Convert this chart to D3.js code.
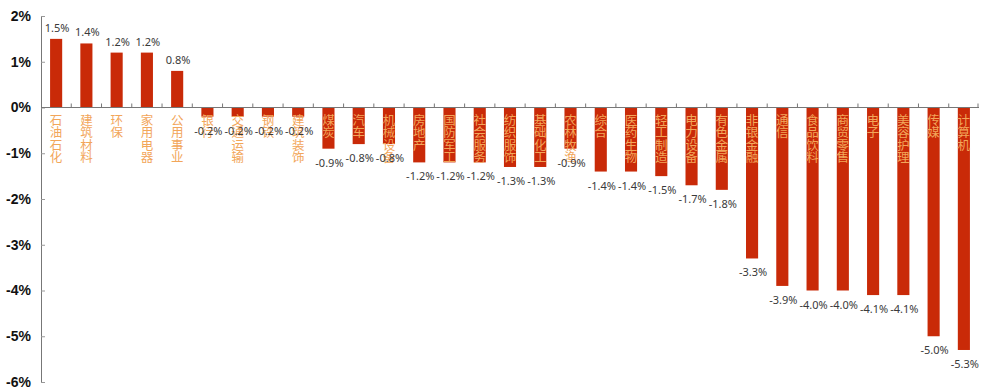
<!DOCTYPE html>
<html>
<head>
<meta charset="utf-8">
<script src="https://cdn.jsdelivr.net/npm/d3@7/dist/d3.min.js"></script>
<style>
  body { margin: 0; background: #fff; }
  svg { display: block; }
</style>
</head>
<body>
<script>
var categories = ["石油石化","建筑材料","环保","家用电器","公用事业","银行","交通运输","钢铁","建筑装饰","煤炭","汽车","机械设备","房地产","国防军工","社会服务","纺织服饰","基础化工","农林牧渔","综合","医药生物","轻工制造","电力设备","有色金属","非银金融","通信","食品饮料","商贸零售","电子","美容护理","传媒","计算机"];
var values = [1.5,1.4,1.2,1.2,0.8,-0.2,-0.2,-0.2,-0.2,-0.9,-0.8,-0.8,-1.2,-1.2,-1.2,-1.3,-1.3,-0.9,-1.4,-1.4,-1.5,-1.7,-1.8,-3.3,-3.9,-4.0,-4.0,-4.1,-4.1,-5.0,-5.3];
var yTicks = [2,1,0,-1,-2,-3,-4,-5,-6];

var width = 982, height = 388,
    margin = {left: 41, right: 3, top: 16, bottom: 6};

var svg = d3.select('body').append('svg')
    .attr('width', width).attr('height', height);

var x = d3.scaleBand()
    .domain(categories)
    .range([margin.left, width - margin.right])
    .paddingInner(0.6).paddingOuter(0.3);

var y = d3.scaleLinear()
    .domain([-6, 2])
    .range([height - margin.bottom, margin.top]);

// plain hyphen instead of d3's unicode minus
function fmt(d) { return d3.format('.1f')(d).replace('\u2212', '-'); }

// bars
svg.append('g').selectAll('rect')
    .data(values)
    .enter().append('rect')
    .attr('x', function(d, i) { return x(categories[i]); })
    .attr('width', x.bandwidth())
    .attr('y', function(d) { return y(Math.max(0, d)); })
    .attr('height', function(d) { return Math.abs(y(d) - y(0)); })
    .attr('fill', '#c92a08');

// y axis
var yAxis = svg.append('g')
    .attr('transform', 'translate(' + margin.left + ',0)')
    .call(d3.axisRight(y).tickValues(yTicks).tickSize(4).tickFormat(''));
yAxis.select('.domain').attr('stroke', '#777');
yAxis.selectAll('.tick line').attr('stroke', '#999');

svg.append('g').selectAll('text')
    .data(yTicks)
    .enter().append('text')
    .attr('x', margin.left - 10)
    .attr('y', function(d) { return y(d); })
    .attr('dy', '0.35em')
    .attr('text-anchor', 'end')
    .style('font-family', 'Liberation Sans, Arial, sans-serif')
    .style('font-weight', 'bold')
    .style('font-size', '14px')
    .attr('fill', '#111')
    .text(function(d) { return d + '%'; });

// x axis at zero
var xBoundaries = categories.map(function(c) { return x(c) - x.step() * x.paddingInner() / 2; });
xBoundaries.push(width - margin.right - 1);
var xAxis = svg.append('g');
xAxis.append('line')
    .attr('x1', margin.left).attr('x2', width - margin.right)
    .attr('y1', y(0)).attr('y2', y(0))
    .attr('stroke', '#777');
xAxis.selectAll('line.tk')
    .data(xBoundaries.slice(1))
    .enter().append('line')
    .attr('class', 'tk')
    .attr('x1', function(d) { return d; }).attr('x2', function(d) { return d; })
    .attr('y1', y(0)).attr('y2', y(0) - 4)
    .attr('stroke', '#777');

// category labels, vertical characters
var catG = svg.append('g')
    .style('font-family', 'Noto Sans CJK SC, sans-serif')
    .style('font-size', '12.5px')
    .attr('fill', '#f2a65a');
categories.forEach(function(c, i) {
    var cx = x(c) + x.bandwidth() / 2;
    var t = catG.append('text').attr('text-anchor', 'middle');
    c.split('').forEach(function(ch, j) {
        t.append('tspan')
            .attr('x', cx)
            .attr('y', y(0) + 17 + j * 12.5)
            .text(ch);
    });
});

// value labels
svg.append('g').selectAll('text')
    .data(values)
    .enter().append('text')
    .attr('x', function(d, i) { return x(categories[i]) + x.bandwidth() / 2 + 1; })
    .attr('y', function(d) { return d >= 0 ? y(d) - 7 : y(d) + 18; })
    .attr('text-anchor', 'middle')
    .style('font-family', 'Noto Sans, sans-serif')
    .style('font-size', '11px')
    .attr('fill', '#3a3a3a')
    .text(function(d) { return fmt(d) + '%'; });
</script>
</body>
</html>
